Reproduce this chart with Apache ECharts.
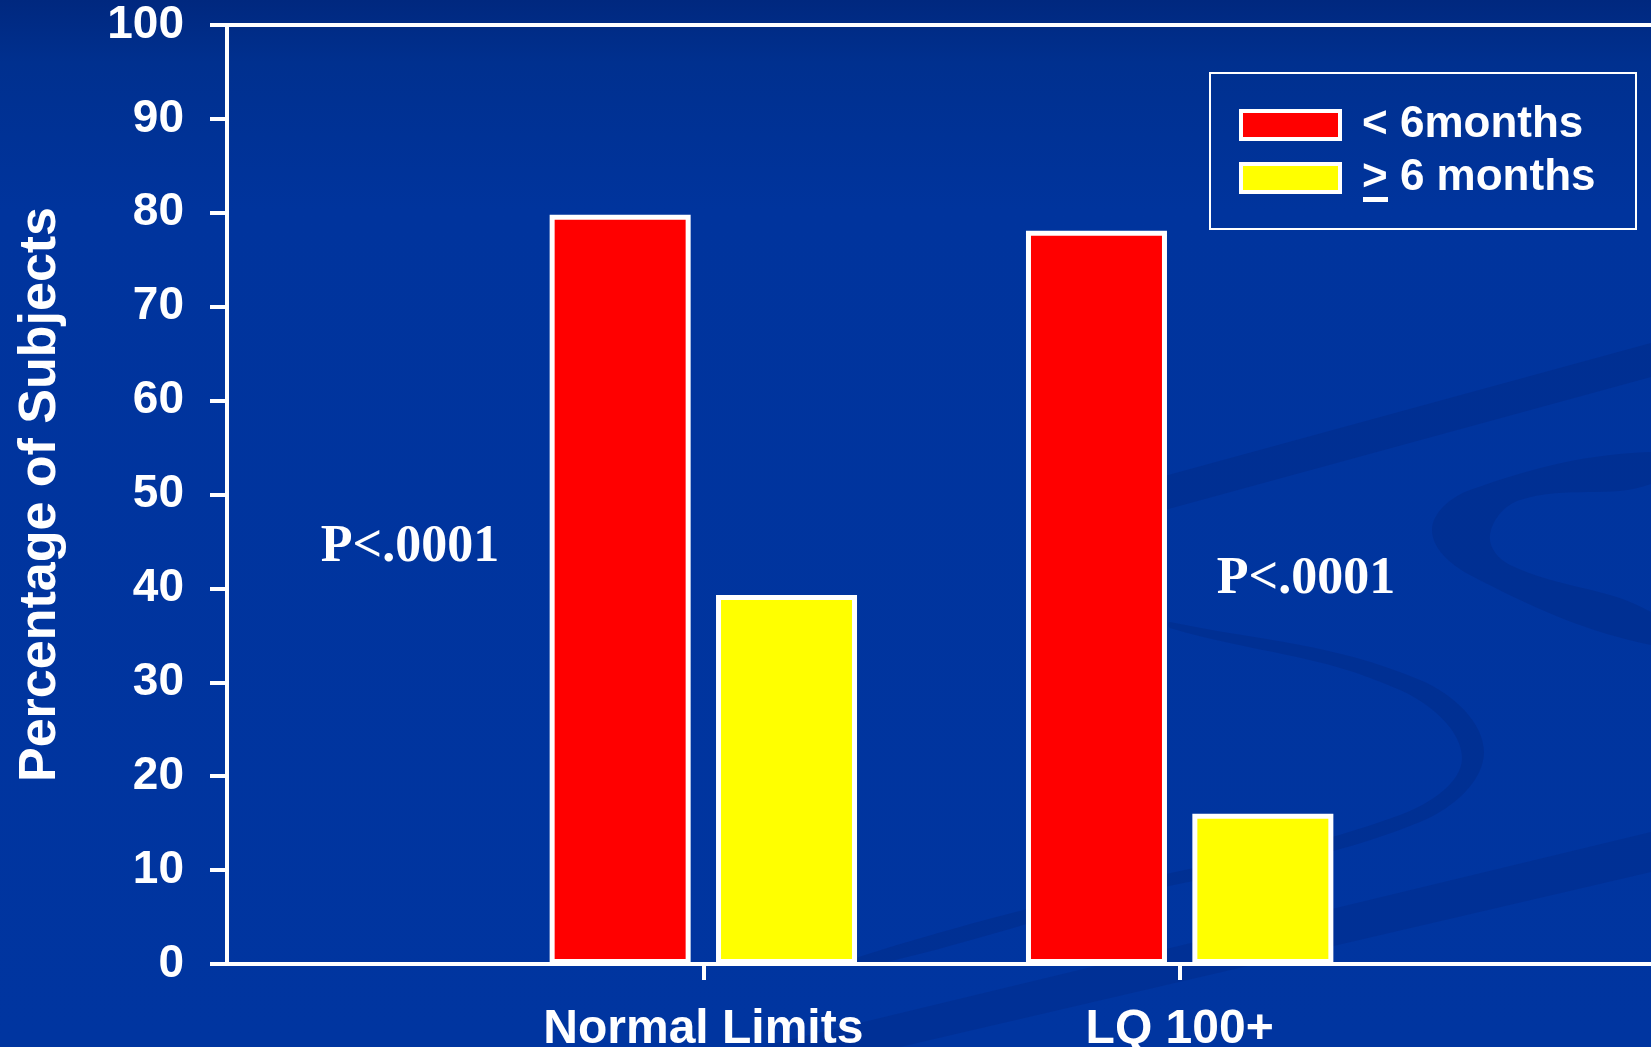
<!DOCTYPE html>
<html>
<head>
<meta charset="utf-8">
<script src="https://cdn.jsdelivr.net/npm/echarts@6/dist/echarts.min.js"></script>
<style>
html,body{margin:0;padding:0;background:#0033a0;}
#c{width:1651px;height:1047px;}
</style>
</head>
<body>
<div id="c"></div>
<script>
// ---- data ----
const categories = ['Normal Limits', 'LQ 100+'];
const seriesNames = ['< 6months', '> 6 months'];
const under6Months = [79.8, 78.1];
const over6Months = [39.3, 16];
const yMin = 0, yMax = 100, yInterval = 10;
const pValueLabels = ['P<.0001', 'P<.0001'];

const FONT = '"Liberation Sans", Arial, sans-serif';
const SERIF = '"Liberation Serif", "Times New Roman", serif';

// padded category axis (points sit between blank edge categories)
const axisCats = [''].concat(categories, ['']);
const pad = arr => [null].concat(arr, [null]);

const chart = echarts.init(document.getElementById('c'), null, {renderer: 'canvas'});

const swoosh = 'rgba(0,35,120,0.28)';

const option = {
  backgroundColor: {
    type: 'linear', x: 0, y: 0, x2: 0, y2: 1,
    colorStops: [
      {offset: 0, color: '#00287f'},
      {offset: 0.06, color: '#00308f'},
      {offset: 0.2, color: '#00349d'},
      {offset: 1, color: '#0035a0'}
    ]
  },
  animation: false,
  grid: {
    left: 227, top: 25, right: -5, bottom: 83,
    outerBoundsMode: 'none',
    containLabel: false,
    show: true, borderColor: '#ffffff', borderWidth: 4,
    backgroundColor: 'transparent'
  },
  legend: {
    orient: 'vertical',
    left: 1239, top: 103,
    itemWidth: 99, itemHeight: 28, itemGap: 9,
    icon: 'rect',
    padding: 0,
    itemStyle: {borderColor: '#ffffff', borderWidth: 4},
    textStyle: {
      color: '#ffffff', fontSize: 44, fontWeight: 'bold', fontFamily: FONT,
      padding: [0, 0, 0, 17]
    },
    data: seriesNames
  },
  xAxis: {
    type: 'category',
    data: axisCats,
    boundaryGap: false,
    axisLine: {lineStyle: {color: '#ffffff', width: 4}},
    axisTick: {
      show: true, length: 16, lineStyle: {color: '#ffffff', width: 4},
      interval: function (i) { return i === 1 || i === 2; }
    },
    axisLabel: {
      interval: 0, margin: 42, color: '#ffffff',
      fontSize: 48, fontWeight: 'bold', fontFamily: FONT
    },
    splitLine: {show: false}
  },
  yAxis: {
    type: 'value',
    min: yMin, max: yMax, interval: yInterval,
    name: 'Percentage of Subjects',
    nameLocation: 'middle',
    nameGap: 160,
    nameTextStyle: {color: '#ffffff', fontSize: 52, fontWeight: 'bold', fontFamily: FONT},
    axisLine: {show: true, lineStyle: {color: '#ffffff', width: 4}},
    axisTick: {show: true, length: 17, lineStyle: {color: '#ffffff', width: 4}},
    axisLabel: {margin: 43, color: '#ffffff', fontSize: 46, fontWeight: 'bold', fontFamily: FONT},
    splitLine: {show: false}
  },
  series: [
    {
      name: seriesNames[0], type: 'bar', data: pad(under6Months),
      barWidth: 141, barGap: '18%',
      itemStyle: {color: '#ff0000', borderColor: '#ffffff', borderWidth: 5},
      z: 3
    },
    {
      name: seriesNames[1], type: 'bar', data: pad(over6Months),
      barWidth: 141, barGap: '18%',
      itemStyle: {color: '#ffff00', borderColor: '#ffffff', borderWidth: 5},
      z: 3
    }
  ],
  graphic: [
    // subtle background swooshes
    {type: 'polygon', z: -10, shape: {points: [[1150, 480], [1651, 343], [1651, 377], [1150, 514]]},
     style: {fill: swoosh}},
    {type: 'polygon', z: -10, shape: {smooth: 0.4, points: [[1651, 452], [1470, 490], [1432, 530], [1470, 575], [1651, 645], [1651, 612], [1510, 565], [1490, 535], [1520, 500], [1651, 484]]},
     style: {fill: swoosh}},
    {type: 'polygon', z: -10, shape: {smooth: 0.4, points: [[1170, 628], [1400, 690], [1462, 758], [1400, 815], [1100, 890], [850, 960], [870, 966], [1120, 898], [1420, 822], [1484, 752], [1420, 680], [1170, 622]]},
     style: {fill: swoosh}},
    {type: 'polygon', z: -10, shape: {points: [[760, 1047], [1651, 832], [1651, 872], [900, 1047]]},
     style: {fill: 'rgba(0,35,120,0.25)'}},
    // legend frame
    {type: 'rect', z: 5, shape: {x: 1210, y: 73, width: 426, height: 156},
     style: {fill: 'none', stroke: '#ffffff', lineWidth: 2}},
    // underline of the ">" sign (reads as "≥")
    {type: 'rect', z: 5, shape: {x: 1363, y: 197, width: 25, height: 5},
     style: {fill: '#ffffff'}},
    // p-value annotations
    {type: 'text', z: 5, x: 410, y: 548, style: {text: pValueLabels[0], fill: '#ffffff',
      font: 'bold 52px ' + SERIF, align: 'center', verticalAlign: 'middle'}},
    {type: 'text', z: 5, x: 1306, y: 580, style: {text: pValueLabels[1], fill: '#ffffff',
      font: 'bold 52px ' + SERIF, align: 'center', verticalAlign: 'middle'}}
  ]
};
chart.setOption(option);
</script>
</body>
</html>
